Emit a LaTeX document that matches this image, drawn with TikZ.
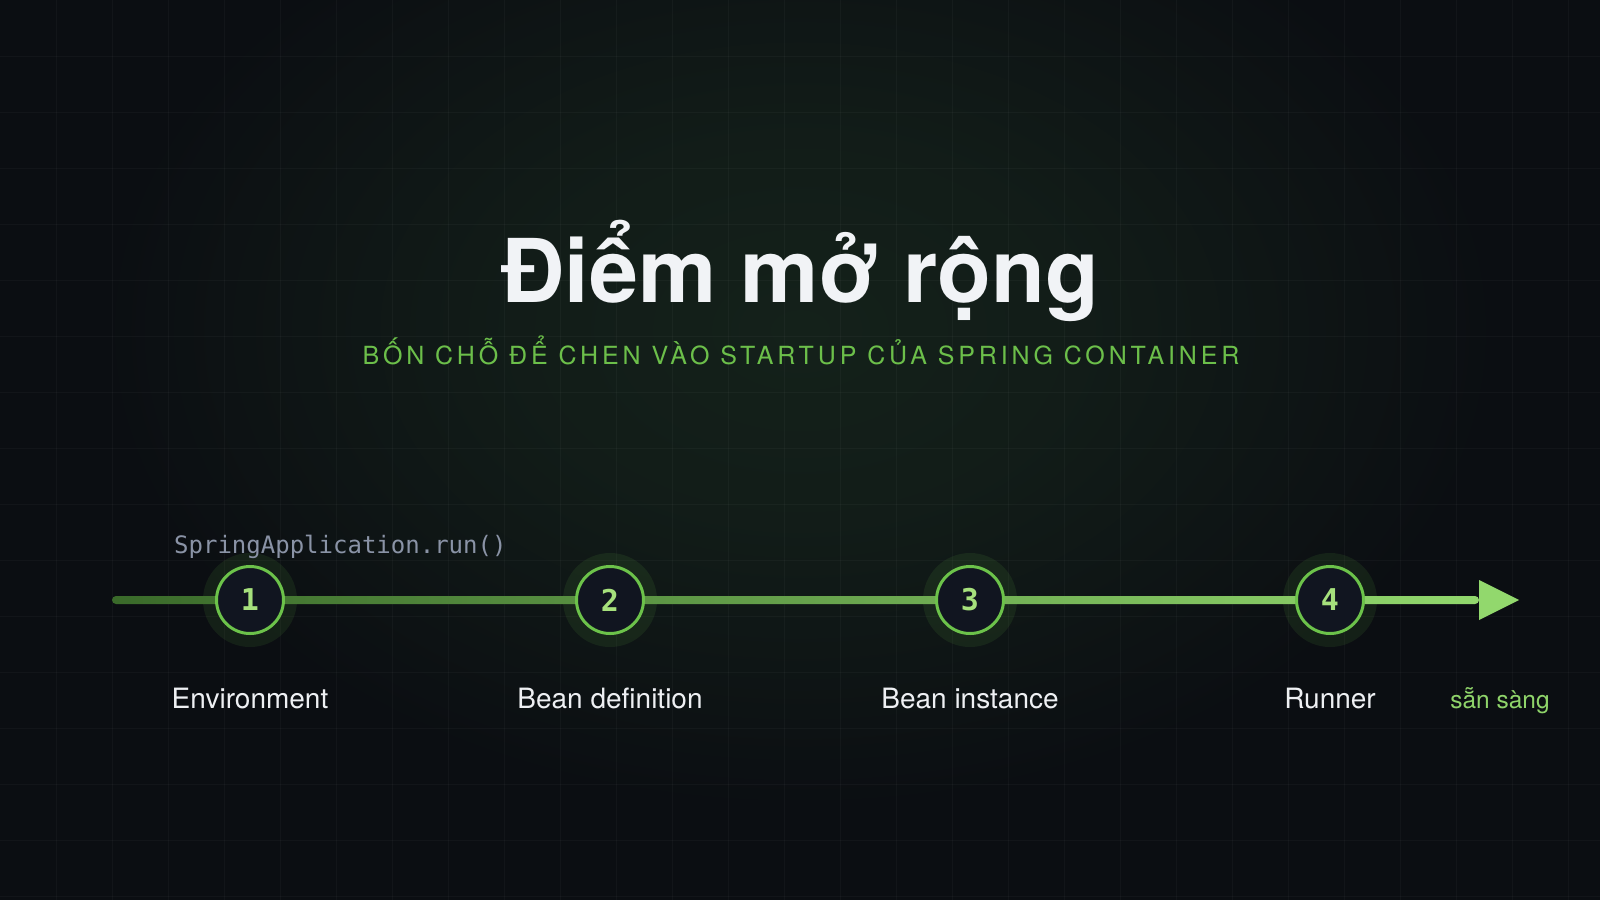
\documentclass[tikz,border=0pt]{standalone}
\usepackage{fontspec}
\setmainfont{TeX Gyre Heros}
\setmonofont{DejaVu Sans Mono}
\newfontfamily\subfont[LetterSpace=15.5]{TeX Gyre Heros}
\usetikzlibrary{calc}
\definecolor{bg}{HTML}{0B0E12}
\definecolor{glow}{HTML}{14211A}
\definecolor{ringgreen}{HTML}{6CC24A}
\definecolor{numgreen}{HTML}{A6E07C}
\definecolor{circfill}{HTML}{111520}
\definecolor{lineA}{HTML}{3A6A2A}
\definecolor{lineM}{HTML}{68B646}
\definecolor{lineB}{HTML}{92D86D}
\definecolor{subgreen}{HTML}{6CBF4A}
\definecolor{readygreen}{HTML}{8FD46A}
\definecolor{titlewhite}{HTML}{F1F3F6}
\definecolor{labwhite}{HTML}{EEF0F3}
\definecolor{codegrey}{HTML}{8A93A6}
\pgfdeclareradialshading{glowshade}{\pgfpoint{0bp}{0bp}}{%
  color(0bp)=(glow); color(10bp)=(glow!75!bg); color(25bp)=(bg); color(50bp)=(bg)}
\tikzset{
  gridline/.style={draw=white, opacity=0.03, line width=1pt},
  halo/.style={fill=ringgreen, opacity=0.10},
  stepcirc/.style={circle, minimum size=67pt, inner sep=0pt, line width=3pt,
    draw=ringgreen, fill=circfill, text=numgreen,
    font=\ttfamily\bfseries\fontsize{30}{30}\selectfont},
  lab/.style={anchor=base, text=labwhite, font=\fontsize{28}{30}\selectfont, inner sep=0pt},
}
\begin{document}
\begin{tikzpicture}[x=1pt,y=-1pt]
\useasboundingbox (0,0) rectangle (1600,900);
\fill[bg] (0,0) rectangle (1600,900);
\shade[shading=glowshade] (800,330) ellipse [x radius=700pt, y radius=480pt];
\foreach \i in {1,...,28} \draw[gridline] (\i*56,0) -- (\i*56,900);
\foreach \j in {1,...,16} \draw[gridline] (0,\j*56) -- (1600,\j*56);

% title
\node[anchor=base, text=titlewhite, inner sep=0pt,
  font=\bfseries\fontsize{88}{90}\selectfont] (title) at (800,302) {Điểm mở rộng};
\node[anchor=base, text=subgreen, inner sep=0pt,
  font=\subfont\fontsize{25}{28}\selectfont] (subtitle) at (801,364)
  {BỐN CHỖ ĐỂ CHEN VÀO STARTUP CỦA SPRING CONTAINER};

% timeline
\coordinate (start) at (112,600);
\coordinate (end) at (1479,600);
\coordinate (p1) at (250,600);
\coordinate (p2) at (610,600);
\coordinate (p3) at (970,600);
\coordinate (p4) at (1330,600);
\foreach \p in {p1,p2,p3,p4} \fill[halo] (\p) circle (47pt);
\shade[left color=lineA, middle color=lineM, right color=lineB, rounded corners=4pt]
  ($(start)+(0,-4)$) rectangle ($(end)+(0,4)$);
\fill[lineB] ($(end)+(0,-20)$) -- ($(end)+(40,0)$) -- ($(end)+(0,20)$) -- cycle;

\node[stepcirc] (n1) at (p1) {1};
\node[stepcirc] (n2) at (p2) {2};
\node[stepcirc] (n3) at (p3) {3};
\node[stepcirc] (n4) at (p4) {4};

\node[anchor=base west, text=codegrey, inner sep=0pt,
  font=\ttfamily\fontsize{24}{26}\selectfont] (code) at (174,553) {SpringApplication.run()};

\node[lab] (l1) at ($(p1)+(0,108)$) {Environment};
\node[lab] (l2) at ($(p2)+(0,108)$) {Bean definition};
\node[lab] (l3) at ($(p3)+(0,108)$) {Bean instance};
\node[lab] (l4) at ($(p4)+(0,108)$) {Runner};
\node[anchor=base, text=readygreen, inner sep=0pt,
  font=\fontsize{24.5}{28}\selectfont] (ready) at (1500,708) {sẵn sàng};
\end{tikzpicture}
\end{document}
